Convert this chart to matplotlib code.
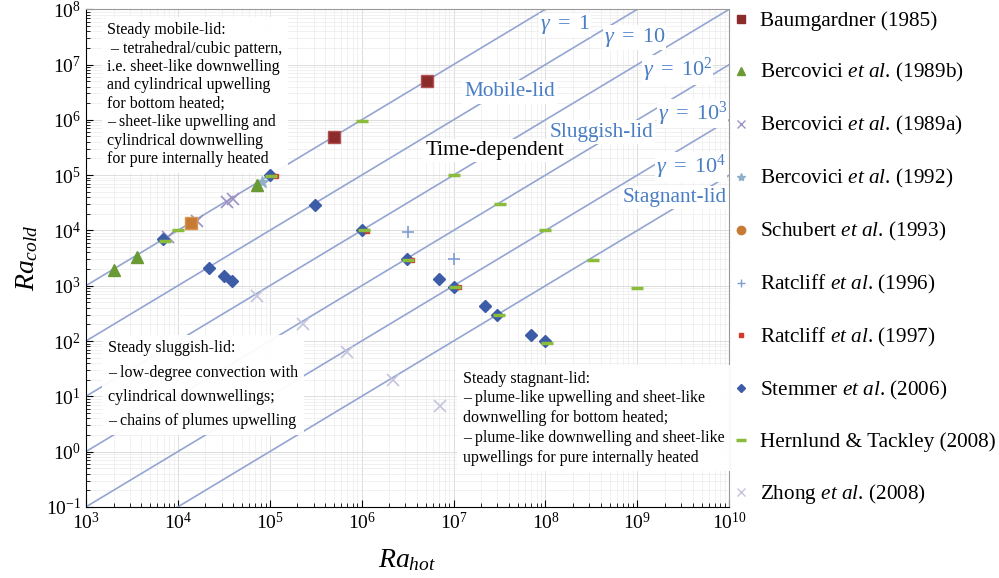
import matplotlib
matplotlib.use('Agg')
import matplotlib.pyplot as plt
from matplotlib.lines import Line2D
from matplotlib.ticker import LogLocator, LogFormatterMathtext
import numpy as np

plt.rcParams['font.family'] = ['Liberation Serif', 'DejaVu Serif']
plt.rcParams['mathtext.fontset'] = 'custom'
plt.rcParams['mathtext.rm'] = 'Liberation Serif'
plt.rcParams['mathtext.it'] = 'Liberation Serif:italic'

# data (Ra_hot, Ra_cold)
baum_x = [5.0e5, 5.1e6]
baum_y = [4.9e5, 5.0e6]
ber89b_x = [2.0e3, 3.6e3, 7.2e4]
ber89b_y = [1.9e3, 3.3e3, 6.5e4]
ber89a_x = [7.8e3, 1.6e4, 3.4e4, 4.0e4]
ber89a_y = [7.6e3, 1.5e4, 3.3e4, 3.7e4]
ber92_x = [8.3e4]
ber92_y = [7.6e4]
schub_x = [1.4e4]
schub_y = [1.35e4]
rat96_x = [3.2e6, 1.0e7]
rat96_y = [9.5e3, 3.0e3]
rat97_x = [1.17e5, 1.15e6, 3.5e6, 1.15e7]
rat97_y = [9.7e4, 9.8e3, 2.95e3, 9.6e2]
stem_x = [6.9e3, 1.0e5, 3.1e5, 2.2e4, 3.2e4, 3.9e4, 1.0e6, 3.1e6, 6.9e6, 1.0e7,
          2.2e7, 3.0e7, 6.9e7, 1.0e8]
stem_y = [6.9e3, 1.0e5, 2.9e4, 2.1e3, 1.5e3, 1.2e3, 1.0e4, 3.0e3, 1.3e3, 9.5e2,
          4.3e2, 3.0e2, 1.3e2, 1.0e2]
hern_x = [7.2e3, 1.0e4, 1.03e5, 1.0e6, 1.0e7, 3.2e7, 1.0e8, 3.3e8, 1.0e9,
          1.05e6, 3.2e6, 1.05e7, 3.15e7, 1.05e8]
hern_y = [6.4e3, 1.0e4, 9.5e4, 9.4e5, 1.0e5, 3.0e4, 1.0e4, 2.9e3, 9.0e2,
          1.0e4, 2.95e3, 9.6e2, 2.9e2, 9.4e1]
zhong_x = [7.3e4, 2.3e5, 6.9e5, 2.2e6, 7.1e6]
zhong_y = [6.5e2, 2.0e2, 63, 20, 6.6]

gammas = [1, 1e1, 1e2, 1e3, 1e4, 1e5]
gamma_labels = [r'$\gamma\ =\ 1$', r'$\gamma\ =\ 10$', r'$\gamma\ =\ 10^2$',
                r'$\gamma\ =\ 10^3$', r'$\gamma\ =\ 10^4$']
gamma_lab_x = [8.7e7, 4.3e8, 1.15e9, 1.66e9, 1.6e9]
gamma_lab_y = [5.2e7, 3.1e7, 7.9e6, 1.3e6, 1.4e5]

xticks = [1e3, 1e4, 1e5, 1e6, 1e7, 1e8, 1e9, 1e10]
yticks = [1e-1, 1e0, 1e1, 1e2, 1e3, 1e4, 1e5, 1e6, 1e7, 1e8]

fig = plt.figure(figsize=(9.99, 5.78), dpi=100)
ax = fig.add_axes([0.086, 0.123, 0.644, 0.861])
ax.set_xscale('log')
ax.set_yscale('log')
ax.set_xlim(1e3, 1e10)
ax.set_ylim(1e-1, 1e8)

ax.grid(True, which='major', color='#dcdcdc', lw=0.7)
ax.grid(True, which='minor', color='#ececec', lw=0.5)
ax.set_axisbelow(True)

lc = '#94a5d2'
xx = np.logspace(3, 10, 50)
for g in gammas:
    ax.plot(xx, xx / g, color=lc, lw=1.2, zorder=1)

blue = '#4a7ec4'
for lab, lx, ly in zip(gamma_labels, gamma_lab_x, gamma_lab_y):
    ax.text(lx, ly, lab, color=blue, fontsize=16, ha='left', va='center', zorder=2,
            bbox=dict(facecolor='white', edgecolor='none', pad=0.5))
for lab, lx, ly, c in [('Mobile-lid', 1.3e7, 3.2e6, blue),
                       ('Sluggish-lid', 1.1e8, 6.0e5, blue),
                       ('Time-dependent', 4.9e6, 2.8e5, 'black'),
                       ('Stagnant-lid', 6.9e8, 4.0e4, blue)]:
    ax.text(lx, ly, lab, color=c, fontsize=15.3, ha='left', va='center', zorder=2,
            bbox=dict(facecolor='white', edgecolor='none', pad=1.5))

box = dict(facecolor='white', edgecolor='none', alpha=0.95, pad=4)
ax.text(0.033, 0.974, 'Steady mobile-lid:\n – tetrahedral/cubic pattern,\n'
        'i.e. sheet-like downwelling\nand cylindrical upwelling\nfor bottom heated;\n'
        '– sheet-like upwelling and\ncylindrical downwelling\nfor pure internally heated',
        transform=ax.transAxes, fontsize=11.5, va='top', ha='left', linespacing=1.2,
        bbox=box, zorder=3)
ax.text(0.034, 0.335, 'Steady sluggish-lid:\n– low-degree convection with\n'
        'cylindrical downwellings;\n– chains of plumes upwelling',
        transform=ax.transAxes, fontsize=11.5, va='top', ha='left', linespacing=1.7,
        bbox=box, zorder=3)
ax.text(0.586, 0.274, 'Steady stagnant-lid:\n– plume-like upwelling and sheet-like\n'
        'downwelling for bottom heated;\n– plume-like downwelling and sheet-like\n'
        'upwellings for pure internally heated',
        transform=ax.transAxes, fontsize=11.5, va='top', ha='left', linespacing=1.32,
        bbox=box, zorder=3)

ax.plot(zhong_x, zhong_y, 'x', color='#c4c4dc', ms=8, mew=1.2, zorder=4)
ax.plot(ber89a_x, ber89a_y, 'x', color='#9d92c4', ms=9, mew=1.2, zorder=4)
ax.plot(ber92_x, ber92_y, '*', color='#8fb0c8', ms=9, mew=1.0, zorder=4)
ax.plot(baum_x, baum_y, 's', color='#8c2b2b', mec='#b05050', ms=8, zorder=5)
ax.plot(schub_x, schub_y, 's', color='#c67a34', mec='#d89550', ms=9, zorder=5)
ax.plot(ber89b_x, ber89b_y, '^', color='#6a9a34', ms=8, zorder=5)
ax.plot(rat96_x, rat96_y, '+', color='#7f9ed2', ms=9, mew=1.2, zorder=5)
ax.plot(stem_x, stem_y, 'D', color='#3c5ca8', ms=6, zorder=5)
ax.plot(rat97_x, rat97_y, 's', color='#d23a2a', ms=3.5, zorder=6)
ax.plot(hern_x, hern_y, '_', color='#8cbc3c', ms=9, mew=2.5, zorder=6)

ax.set_xticks(xticks)
ax.set_yticks(yticks)
ax.xaxis.set_minor_locator(LogLocator(base=10, subs=np.arange(2, 10), numticks=20))
ax.yaxis.set_minor_locator(LogLocator(base=10, subs=np.arange(2, 10), numticks=20))
ax.xaxis.set_major_formatter(LogFormatterMathtext())
ax.yaxis.set_major_formatter(LogFormatterMathtext())
ax.tick_params(which='both', direction='in', labelsize=14, top=False, right=False)
ax.tick_params(which='major', length=5)
ax.tick_params(which='minor', length=3)
for s in ['top', 'right']:
    ax.spines[s].set_color('#999999')

ax.set_xlabel(r'$Ra_{hot}$', fontsize=20, labelpad=10)
ax.set_ylabel(r'$Ra_{cold}$', fontsize=20, labelpad=4)

handles = [
    Line2D([], [], ls='', marker='s', color='#8c2b2b', ms=6),
    Line2D([], [], ls='', marker='^', color='#6a9a34', ms=6),
    Line2D([], [], ls='', marker='x', color='#9d92c4', ms=6),
    Line2D([], [], ls='', marker='*', color='#8fb0c8', ms=6),
    Line2D([], [], ls='', marker='o', color='#c67a34', ms=6),
    Line2D([], [], ls='', marker='+', color='#7f9ed2', ms=6),
    Line2D([], [], ls='', marker='s', color='#d23a2a', ms=2.5),
    Line2D([], [], ls='', marker='D', color='#3c5ca8', ms=4.5),
    Line2D([], [], ls='', marker='_', color='#8cbc3c', ms=7, mew=2.5),
    Line2D([], [], ls='', marker='x', color='#c4c4dc', ms=6),
]
labels = ['Baumgardner (1985)', r'Bercovici $\it{et\ al}$. (1989b)',
          r'Bercovici $\it{et\ al}$. (1989a)', r'Bercovici $\it{et\ al}$. (1992)',
          r'Schubert $\it{et\ al}$. (1993)', r'Ratcliff $\it{et\ al}$. (1996)',
          r'Ratcliff $\it{et\ al}$. (1997)', r'Stemmer $\it{et\ al}$. (2006)',
          'Hernlund & Tackley (2008)', r'Zhong $\it{et\ al}$. (2008)']
fig.legend(handles, labels, loc='upper left', bbox_to_anchor=(0.714, 1.013),
           frameon=False, fontsize=15.3, labelspacing=1.41, handlelength=0.8,
           handletextpad=0.5)

fig.savefig('out.png', dpi=100)
